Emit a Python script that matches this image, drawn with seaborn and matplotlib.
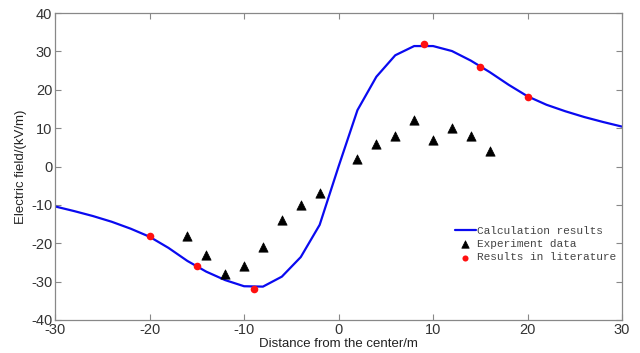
import matplotlib
matplotlib.use("Agg")
import matplotlib.pyplot as plt
import seaborn as sns
import pandas as pd

# Calculation results (curve)
calc_x = [-30, -28, -26, -24, -22, -20, -18, -16, -14, -12, -10, -8, -6, -4, -2, 0,
          2, 4, 6, 8, 10, 12, 14, 16, 18, 20, 22, 24, 26, 28, 30]
calc_y = [-10.4, -11.6, -12.9, -14.4, -16.2, -18.3, -21.2, -24.6, -27.4, -29.6, -31.2, -31.3,
          -28.7, -23.6, -15.2, 0.0, 14.7, 23.4, 29.0, 31.4, 31.4, 30.1, 27.6, 24.6, 21.3,
          18.3, 16.1, 14.4, 12.9, 11.6, 10.4]

# Experiment data
exp_x = [-16, -14, -12, -10, -8, -6, -4, -2, 2, 4, 6, 8, 10, 12, 14, 16]
exp_y = [-18, -23, -28, -26, -21, -14, -10, -7, 2, 6, 8, 12, 7, 10, 8, 4]

# Results in literature
lit_x = [-20, -15, -9, 9, 15, 20]
lit_y = [-18, -26, -32, 32, 26, 18]

x_ticks = [-30, -20, -10, 0, 10, 20, 30]
y_ticks = [-40, -30, -20, -10, 0, 10, 20, 30, 40]

sns.set_style("white")
plt.rcParams["font.family"] = ["Liberation Sans", "DejaVu Sans"]
plt.rcParams["axes.unicode_minus"] = False

fig = plt.figure(figsize=(6.4, 3.53), dpi=100)
ax = fig.add_axes([0.086, 0.0935, 0.886, 0.8695])

calc = pd.DataFrame({"x": calc_x, "y": calc_y})
exp = pd.DataFrame({"x": exp_x, "y": exp_y})
lit = pd.DataFrame({"x": lit_x, "y": lit_y})

sns.lineplot(data=calc, x="x", y="y", ax=ax, color="#0a0af0", linewidth=1.6,
             label="Calculation results", sort=False)
sns.scatterplot(data=exp, x="x", y="y", ax=ax, marker="^", color="black", s=45,
                edgecolor="black", linewidth=0.5, label="Experiment data", zorder=3)
sns.scatterplot(data=lit, x="x", y="y", ax=ax, marker="o", color="#ff1010", s=30,
                edgecolor="#ff1010", linewidth=0, label="Results in literature", zorder=4)

ax.set_xlim(-30, 30)
ax.set_ylim(-40, 40)
ax.set_xticks(x_ticks)
ax.set_yticks(y_ticks)
ax.set_xlabel("Distance from the center/m", fontsize=9.5, color="#222222", labelpad=1)
ax.set_ylabel("Electric field/(kV/m)", fontsize=9.5, color="#222222", labelpad=3)
ax.tick_params(direction="in", length=4, width=0.8, colors="#888888",
               labelcolor="#333333", labelsize=10.5, top=True, right=True,
               bottom=True, left=True, pad=2)
for sp in ax.spines.values():
    sp.set_color("#888888")
    sp.set_linewidth(0.9)
    sp.set_visible(True)

ax.legend(loc="upper left", bbox_to_anchor=(0.695, 0.325), frameon=False,
          prop={"family": ["Liberation Mono"], "size": 8}, borderpad=0,
          handlelength=1.9, handletextpad=0.15, labelspacing=0.3,
          markerscale=0.8, labelcolor="#444444")

fig.savefig("out.png", dpi=100)
